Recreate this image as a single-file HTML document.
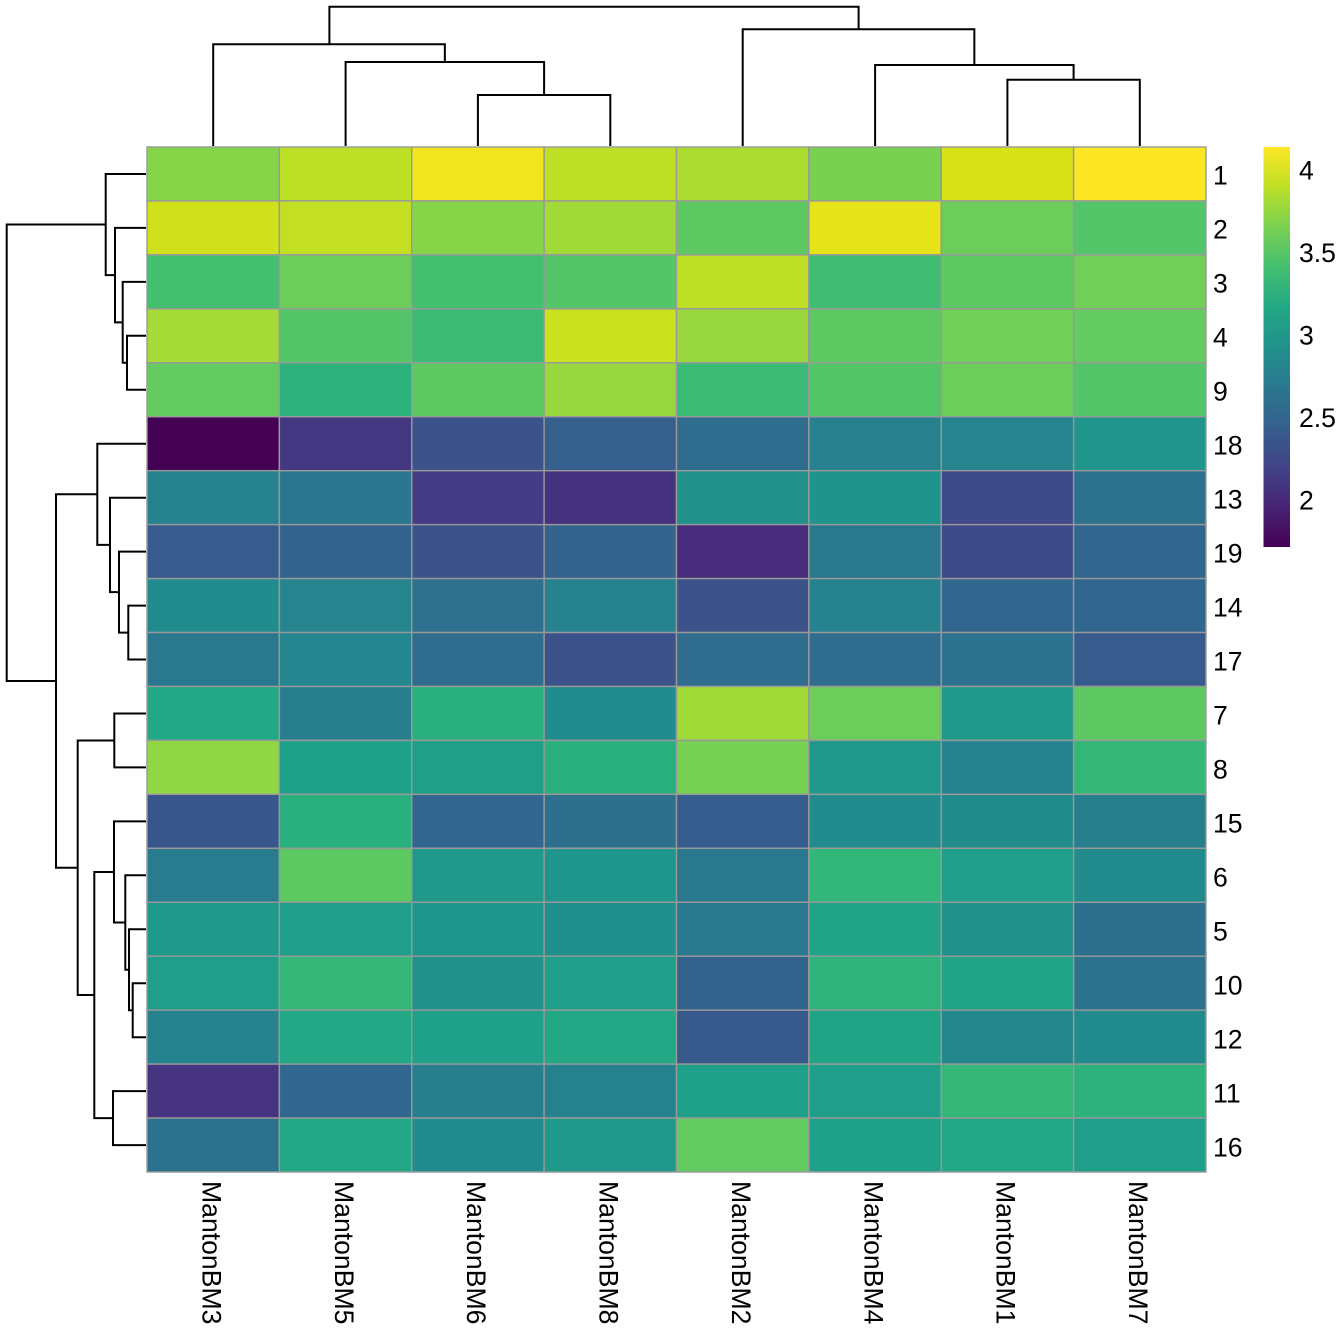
<!DOCTYPE html>
<html><head><meta charset="utf-8"><style>
html,body{margin:0;padding:0;background:#fff;}
svg{display:block;}
text{font-family:"Liberation Sans",Arial,sans-serif;font-size:26.6px;fill:#000;}
</style></head><body>
<svg width="1344" height="1344" viewBox="0 0 1344 1344" xmlns="http://www.w3.org/2000/svg">
<rect width="1344" height="1344" fill="#fff"/>
<defs>
<linearGradient id="vir" x1="0" y1="0" x2="0" y2="1">
<stop offset="0%" stop-color="#fde725"/><stop offset="10%" stop-color="#bddf26"/><stop offset="20%" stop-color="#7ad151"/><stop offset="30%" stop-color="#44bf70"/><stop offset="40%" stop-color="#22a884"/><stop offset="50%" stop-color="#21918c"/><stop offset="60%" stop-color="#2a788e"/><stop offset="70%" stop-color="#355f8d"/><stop offset="80%" stop-color="#414487"/><stop offset="90%" stop-color="#482475"/><stop offset="100%" stop-color="#440154"/>
</linearGradient>
</defs>
<g stroke="#999" stroke-width="1.4">
<g transform="translate(0,147)"><rect x="147" y="0" width="132.375" height="53.95" fill="#86d549"/><rect x="279.375" y="0" width="132.375" height="53.95" fill="#bddf26"/><rect x="411.75" y="0" width="132.375" height="53.95" fill="#f1e51d"/><rect x="544.125" y="0" width="132.375" height="53.95" fill="#bddf26"/><rect x="676.5" y="0" width="132.375" height="53.95" fill="#addc30"/><rect x="808.875" y="0" width="132.375" height="53.95" fill="#7ad151"/><rect x="941.25" y="0" width="132.375" height="53.95" fill="#d8e219"/><rect x="1073.625" y="0" width="132.375" height="53.95" fill="#fde725"/></g>
<g transform="translate(0,200.95)"><rect x="147" y="0" width="132.375" height="53.95" fill="#d0e11c"/><rect x="279.375" y="0" width="132.375" height="53.95" fill="#c2df23"/><rect x="411.75" y="0" width="132.375" height="53.95" fill="#86d549"/><rect x="544.125" y="0" width="132.375" height="53.95" fill="#a2da37"/><rect x="676.5" y="0" width="132.375" height="53.95" fill="#5ec962"/><rect x="808.875" y="0" width="132.375" height="53.95" fill="#e5e419"/><rect x="941.25" y="0" width="132.375" height="53.95" fill="#6ccd5a"/><rect x="1073.625" y="0" width="132.375" height="53.95" fill="#54c568"/></g>
<g transform="translate(0,254.89)"><rect x="147" y="0" width="132.375" height="53.95" fill="#44bf70"/><rect x="279.375" y="0" width="132.375" height="53.95" fill="#6ccd5a"/><rect x="411.75" y="0" width="132.375" height="53.95" fill="#44bf70"/><rect x="544.125" y="0" width="132.375" height="53.95" fill="#54c568"/><rect x="676.5" y="0" width="132.375" height="53.95" fill="#bddf26"/><rect x="808.875" y="0" width="132.375" height="53.95" fill="#40bd72"/><rect x="941.25" y="0" width="132.375" height="53.95" fill="#5ec962"/><rect x="1073.625" y="0" width="132.375" height="53.95" fill="#70cf57"/></g>
<g transform="translate(0,308.84)"><rect x="147" y="0" width="132.375" height="53.95" fill="#a5db36"/><rect x="279.375" y="0" width="132.375" height="53.95" fill="#54c568"/><rect x="411.75" y="0" width="132.375" height="53.95" fill="#3bbb75"/><rect x="544.125" y="0" width="132.375" height="53.95" fill="#cae11f"/><rect x="676.5" y="0" width="132.375" height="53.95" fill="#98d83e"/><rect x="808.875" y="0" width="132.375" height="53.95" fill="#5ec962"/><rect x="941.25" y="0" width="132.375" height="53.95" fill="#70cf57"/><rect x="1073.625" y="0" width="132.375" height="53.95" fill="#63cb5f"/></g>
<g transform="translate(0,362.79)"><rect x="147" y="0" width="132.375" height="53.95" fill="#63cb5f"/><rect x="279.375" y="0" width="132.375" height="53.95" fill="#2db27d"/><rect x="411.75" y="0" width="132.375" height="53.95" fill="#5ec962"/><rect x="544.125" y="0" width="132.375" height="53.95" fill="#98d83e"/><rect x="676.5" y="0" width="132.375" height="53.95" fill="#3bbb75"/><rect x="808.875" y="0" width="132.375" height="53.95" fill="#52c569"/><rect x="941.25" y="0" width="132.375" height="53.95" fill="#6ccd5a"/><rect x="1073.625" y="0" width="132.375" height="53.95" fill="#54c568"/></g>
<g transform="translate(0,416.74)"><rect x="147" y="0" width="132.375" height="53.95" fill="#440154"/><rect x="279.375" y="0" width="132.375" height="53.95" fill="#453882"/><rect x="411.75" y="0" width="132.375" height="53.95" fill="#3b528b"/><rect x="544.125" y="0" width="132.375" height="53.95" fill="#355f8d"/><rect x="676.5" y="0" width="132.375" height="53.95" fill="#2f6c8e"/><rect x="808.875" y="0" width="132.375" height="53.95" fill="#27808e"/><rect x="941.25" y="0" width="132.375" height="53.95" fill="#25848e"/><rect x="1073.625" y="0" width="132.375" height="53.95" fill="#1f958b"/></g>
<g transform="translate(0,470.68)"><rect x="147" y="0" width="132.375" height="53.95" fill="#26828e"/><rect x="279.375" y="0" width="132.375" height="53.95" fill="#2a768e"/><rect x="411.75" y="0" width="132.375" height="53.95" fill="#443b84"/><rect x="544.125" y="0" width="132.375" height="53.95" fill="#46337f"/><rect x="676.5" y="0" width="132.375" height="53.95" fill="#21918c"/><rect x="808.875" y="0" width="132.375" height="53.95" fill="#1f948c"/><rect x="941.25" y="0" width="132.375" height="53.95" fill="#3e4a89"/><rect x="1073.625" y="0" width="132.375" height="53.95" fill="#2c728e"/></g>
<g transform="translate(0,524.63)"><rect x="147" y="0" width="132.375" height="53.95" fill="#375b8d"/><rect x="279.375" y="0" width="132.375" height="53.95" fill="#33638d"/><rect x="411.75" y="0" width="132.375" height="53.95" fill="#3b528b"/><rect x="544.125" y="0" width="132.375" height="53.95" fill="#33638d"/><rect x="676.5" y="0" width="132.375" height="53.95" fill="#472d7b"/><rect x="808.875" y="0" width="132.375" height="53.95" fill="#2a788e"/><rect x="941.25" y="0" width="132.375" height="53.95" fill="#3e4a89"/><rect x="1073.625" y="0" width="132.375" height="53.95" fill="#31668e"/></g>
<g transform="translate(0,578.58)"><rect x="147" y="0" width="132.375" height="53.95" fill="#228b8d"/><rect x="279.375" y="0" width="132.375" height="53.95" fill="#25848e"/><rect x="411.75" y="0" width="132.375" height="53.95" fill="#2d718e"/><rect x="544.125" y="0" width="132.375" height="53.95" fill="#26828e"/><rect x="676.5" y="0" width="132.375" height="53.95" fill="#3b528b"/><rect x="808.875" y="0" width="132.375" height="53.95" fill="#26828e"/><rect x="941.25" y="0" width="132.375" height="53.95" fill="#31668e"/><rect x="1073.625" y="0" width="132.375" height="53.95" fill="#31668e"/></g>
<g transform="translate(0,632.53)"><rect x="147" y="0" width="132.375" height="53.95" fill="#2a788e"/><rect x="279.375" y="0" width="132.375" height="53.95" fill="#24868e"/><rect x="411.75" y="0" width="132.375" height="53.95" fill="#2f6c8e"/><rect x="544.125" y="0" width="132.375" height="53.95" fill="#3b528b"/><rect x="676.5" y="0" width="132.375" height="53.95" fill="#2f6c8e"/><rect x="808.875" y="0" width="132.375" height="53.95" fill="#2f6c8e"/><rect x="941.25" y="0" width="132.375" height="53.95" fill="#2c728e"/><rect x="1073.625" y="0" width="132.375" height="53.95" fill="#375b8d"/></g>
<g transform="translate(0,686.47)"><rect x="147" y="0" width="132.375" height="53.95" fill="#22a884"/><rect x="279.375" y="0" width="132.375" height="53.95" fill="#277f8e"/><rect x="411.75" y="0" width="132.375" height="53.95" fill="#2ab07f"/><rect x="544.125" y="0" width="132.375" height="53.95" fill="#228b8d"/><rect x="676.5" y="0" width="132.375" height="53.95" fill="#a0da39"/><rect x="808.875" y="0" width="132.375" height="53.95" fill="#6ccd5a"/><rect x="941.25" y="0" width="132.375" height="53.95" fill="#1f9a8a"/><rect x="1073.625" y="0" width="132.375" height="53.95" fill="#5ec962"/></g>
<g transform="translate(0,740.42)"><rect x="147" y="0" width="132.375" height="53.95" fill="#90d743"/><rect x="279.375" y="0" width="132.375" height="53.95" fill="#1fa088"/><rect x="411.75" y="0" width="132.375" height="53.95" fill="#1f9f88"/><rect x="544.125" y="0" width="132.375" height="53.95" fill="#2ab07f"/><rect x="676.5" y="0" width="132.375" height="53.95" fill="#75d054"/><rect x="808.875" y="0" width="132.375" height="53.95" fill="#1f9a8a"/><rect x="941.25" y="0" width="132.375" height="53.95" fill="#26828e"/><rect x="1073.625" y="0" width="132.375" height="53.95" fill="#35b779"/></g>
<g transform="translate(0,794.37)"><rect x="147" y="0" width="132.375" height="53.95" fill="#39568c"/><rect x="279.375" y="0" width="132.375" height="53.95" fill="#2ab07f"/><rect x="411.75" y="0" width="132.375" height="53.95" fill="#31668e"/><rect x="544.125" y="0" width="132.375" height="53.95" fill="#2d708e"/><rect x="676.5" y="0" width="132.375" height="53.95" fill="#365c8d"/><rect x="808.875" y="0" width="132.375" height="53.95" fill="#228b8d"/><rect x="941.25" y="0" width="132.375" height="53.95" fill="#228c8d"/><rect x="1073.625" y="0" width="132.375" height="53.95" fill="#277f8e"/></g>
<g transform="translate(0,848.32)"><rect x="147" y="0" width="132.375" height="53.95" fill="#287c8e"/><rect x="279.375" y="0" width="132.375" height="53.95" fill="#5ec962"/><rect x="411.75" y="0" width="132.375" height="53.95" fill="#1f998a"/><rect x="544.125" y="0" width="132.375" height="53.95" fill="#1f968b"/><rect x="676.5" y="0" width="132.375" height="53.95" fill="#2a788e"/><rect x="808.875" y="0" width="132.375" height="53.95" fill="#32b67a"/><rect x="941.25" y="0" width="132.375" height="53.95" fill="#1f9e89"/><rect x="1073.625" y="0" width="132.375" height="53.95" fill="#228b8d"/></g>
<g transform="translate(0,902.26)"><rect x="147" y="0" width="132.375" height="53.95" fill="#1f9a8a"/><rect x="279.375" y="0" width="132.375" height="53.95" fill="#1f9e89"/><rect x="411.75" y="0" width="132.375" height="53.95" fill="#1f968b"/><rect x="544.125" y="0" width="132.375" height="53.95" fill="#21908d"/><rect x="676.5" y="0" width="132.375" height="53.95" fill="#2a788e"/><rect x="808.875" y="0" width="132.375" height="53.95" fill="#20a386"/><rect x="941.25" y="0" width="132.375" height="53.95" fill="#21918c"/><rect x="1073.625" y="0" width="132.375" height="53.95" fill="#2d708e"/></g>
<g transform="translate(0,956.21)"><rect x="147" y="0" width="132.375" height="53.95" fill="#1f9e89"/><rect x="279.375" y="0" width="132.375" height="53.95" fill="#35b779"/><rect x="411.75" y="0" width="132.375" height="53.95" fill="#21918c"/><rect x="544.125" y="0" width="132.375" height="53.95" fill="#1f9e89"/><rect x="676.5" y="0" width="132.375" height="53.95" fill="#33638d"/><rect x="808.875" y="0" width="132.375" height="53.95" fill="#2eb37c"/><rect x="941.25" y="0" width="132.375" height="53.95" fill="#20a386"/><rect x="1073.625" y="0" width="132.375" height="53.95" fill="#2c738e"/></g>
<g transform="translate(0,1010.16)"><rect x="147" y="0" width="132.375" height="53.95" fill="#26828e"/><rect x="279.375" y="0" width="132.375" height="53.95" fill="#22a884"/><rect x="411.75" y="0" width="132.375" height="53.95" fill="#1fa088"/><rect x="544.125" y="0" width="132.375" height="53.95" fill="#22a884"/><rect x="676.5" y="0" width="132.375" height="53.95" fill="#38598c"/><rect x="808.875" y="0" width="132.375" height="53.95" fill="#20a486"/><rect x="941.25" y="0" width="132.375" height="53.95" fill="#24878e"/><rect x="1073.625" y="0" width="132.375" height="53.95" fill="#228b8d"/></g>
<g transform="translate(0,1064.11)"><rect x="147" y="0" width="132.375" height="53.95" fill="#463480"/><rect x="279.375" y="0" width="132.375" height="53.95" fill="#31668e"/><rect x="411.75" y="0" width="132.375" height="53.95" fill="#277f8e"/><rect x="544.125" y="0" width="132.375" height="53.95" fill="#26818e"/><rect x="676.5" y="0" width="132.375" height="53.95" fill="#1fa088"/><rect x="808.875" y="0" width="132.375" height="53.95" fill="#1f9e89"/><rect x="941.25" y="0" width="132.375" height="53.95" fill="#35b779"/><rect x="1073.625" y="0" width="132.375" height="53.95" fill="#2db27d"/></g>
<g transform="translate(0,1118.05)"><rect x="147" y="0" width="132.375" height="53.95" fill="#2c728e"/><rect x="279.375" y="0" width="132.375" height="53.95" fill="#22a884"/><rect x="411.75" y="0" width="132.375" height="53.95" fill="#228b8d"/><rect x="544.125" y="0" width="132.375" height="53.95" fill="#1f9a8a"/><rect x="676.5" y="0" width="132.375" height="53.95" fill="#63cb5f"/><rect x="808.875" y="0" width="132.375" height="53.95" fill="#1fa088"/><rect x="941.25" y="0" width="132.375" height="53.95" fill="#22a884"/><rect x="1073.625" y="0" width="132.375" height="53.95" fill="#1f9e89"/></g>
</g>
<g fill="none" stroke="#000" stroke-width="2">
<path d="M329.4,44.3 V6.7 H858.6 V29.3"/>
<path d="M213.2,146 V44.3 H444.85 V62"/>
<path d="M345.6,146 V62 H544.1 V95"/>
<path d="M477.9,146 V95 H610.3 V146"/>
<path d="M742.7,146 V29.3 H974.35 V65"/>
<path d="M875.1,146 V65 H1073.6 V79.7"/>
<path d="M1007.4,146 V79.7 H1139.8 V146"/>
<path d="M146,335.8 H127 V389.8 H146"/>
<path d="M146,281.9 H122.7 V362.8 H127"/>
<path d="M146,227.9 H115 V322.35 H122.7"/>
<path d="M146,174 H105.7 V275.1 H115"/>
<path d="M146,605.6 H128.3 V659.5 H146"/>
<path d="M146,551.6 H119 V632.6 H128.3"/>
<path d="M146,497.7 H110 V592.1 H119"/>
<path d="M146,443.7 H97.3 V544.9 H110"/>
<path d="M146,983.2 H132.7 V1037.2 H146"/>
<path d="M146,929.3 H129 V1010.2 H132.7"/>
<path d="M146,875.3 H125.3 V969.75 H129"/>
<path d="M146,821.4 H114 V922.5 H125.3"/>
<path d="M146,1091.1 H113 V1145.1 H146"/>
<path d="M114,871.95 H94.3 V1118.1 H113"/>
<path d="M146,713.5 H114.3 V767.4 H146"/>
<path d="M114.3,740.45 H77.7 V995 H94.3"/>
<path d="M97.3,494.3 H56 V867.7 H77.7"/>
<path d="M105.7,224.5 H6.7 V681 H56"/>
</g>
<g>
<text x="1213" y="184.5">1</text>
<text x="1213" y="238.5">2</text>
<text x="1213" y="292.5">3</text>
<text x="1213" y="346.5">4</text>
<text x="1213" y="400.5">9</text>
<text x="1213" y="454.5">18</text>
<text x="1213" y="508.5">13</text>
<text x="1213" y="562.5">19</text>
<text x="1213" y="616.5">14</text>
<text x="1213" y="670.5">17</text>
<text x="1213" y="724.5">7</text>
<text x="1213" y="778.5">8</text>
<text x="1213" y="832.5">15</text>
<text x="1213" y="886.5">6</text>
<text x="1213" y="940.5">5</text>
<text x="1213" y="994.5">10</text>
<text x="1213" y="1048.5">12</text>
<text x="1213" y="1102.5">11</text>
<text x="1213" y="1156.5">16</text>
</g>
<g>
<text transform="translate(202.5,1181) rotate(90)">MantonBM3</text>
<text transform="translate(334.9,1181) rotate(90)">MantonBM5</text>
<text transform="translate(467.2,1181) rotate(90)">MantonBM6</text>
<text transform="translate(599.6,1181) rotate(90)">MantonBM8</text>
<text transform="translate(732,1181) rotate(90)">MantonBM2</text>
<text transform="translate(864.4,1181) rotate(90)">MantonBM4</text>
<text transform="translate(996.7,1181) rotate(90)">MantonBM1</text>
<text transform="translate(1129.1,1181) rotate(90)">MantonBM7</text>
</g>
<rect x="1263.5" y="147" width="26.5" height="400" fill="url(#vir)"/>
<g>
<text x="1299" y="179.5">4</text>
<text x="1299" y="262">3.5</text>
<text x="1299" y="344.5">3</text>
<text x="1299" y="427">2.5</text>
<text x="1299" y="509.5">2</text>
</g>
</svg>
</body></html>
